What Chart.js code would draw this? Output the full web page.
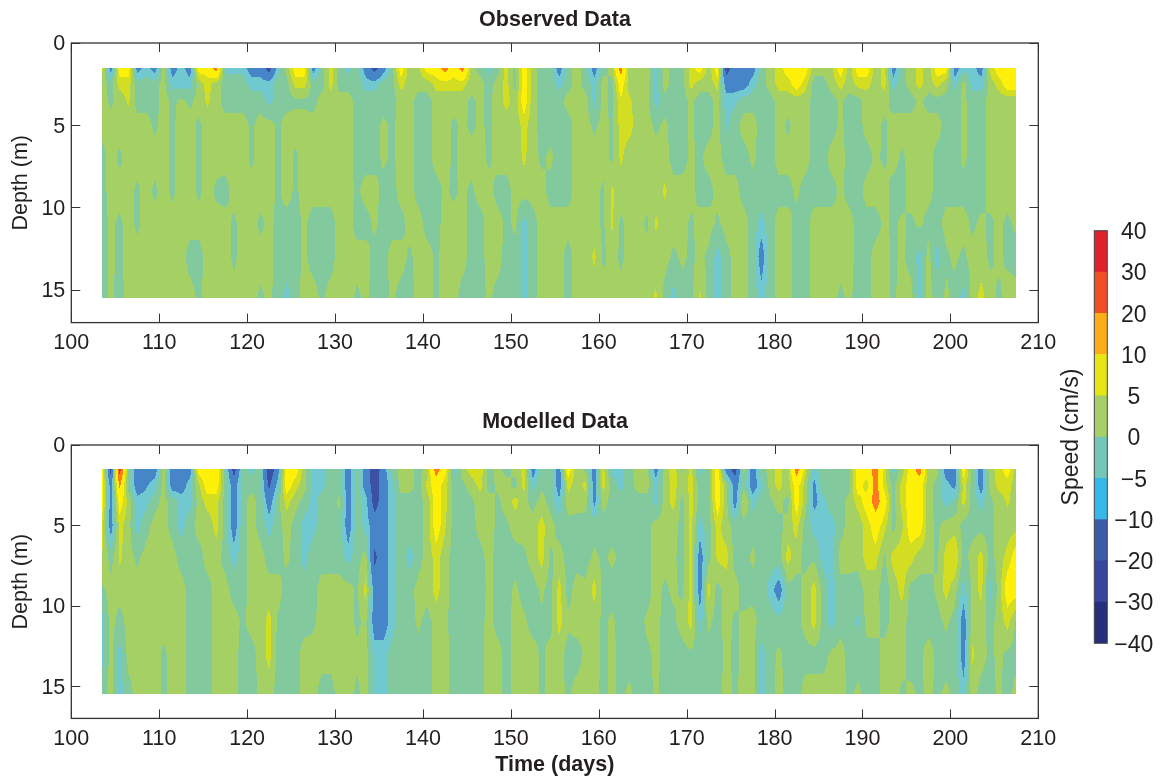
<!DOCTYPE html>
<html>
<head>
<meta charset="utf-8">
<title>Observed and modelled speed</title>
<script src="https://cdn.jsdelivr.net/npm/chart.js@4"></script>
<style>
    body { margin: 0; background: #fff; }
    canvas { position: absolute; }
</style>
</head>
<body>
<canvas id="obsChart" style="left:0;top:0"></canvas>
<canvas id="modChart" style="left:0;top:400px"></canvas>
<canvas id="barChart" style="left:1050px;top:215px"></canvas>
<script>
// -------------------------------
// DATA
// -------------------------------
const days = [103.5,104.5,105.5,106.5,107.5,108.5,109.5,110.5,111.5,112.5,113.5,114.5,115.5,116.5,117.5,118.5,119.5,120.5,121.5,122.5,123.5,124.5,125.5,126.5,127.5,
    128.5,129.5,130.5,131.5,132.5,133.5,134.5,135.5,136.5,137.5,138.5,139.5,140.5,141.5,142.5,143.5,144.5,145.5,146.5,147.5,148.5,149.5,150.5,151.5,152.5,153.5,154.5,155.5,156.5,
    157.5,158.5,159.5,160.5,161.5,162.5,163.5,164.5,165.5,166.5,167.5,168.5,169.5,170.5,171.5,172.5,173.5,174.5,175.5,176.5,177.5,178.5,179.5,180.5,181.5,182.5,183.5,
    184.5,185.5,186.5,187.5,188.5,189.5,190.5,191.5,192.5,193.5,194.5,195.5,196.5,197.5,198.5,199.5,200.5,201.5,202.5,203.5,204.5,205.5,206.5,207.5];
const depths = [1.5, 2.5, 3.5, 5, 7, 9, 11, 13, 15.5];

const obs1 = [7,-14,14,14,-14,-7,-14,2,-14,-7,-14,14,14,25,-7,-7,-7,-14,-14,-25,-7,2,14,14,-14,
    -2,7,-2,-7,-2,-14,-25,-14,-2,14,2,4,14,14,25,14,25,2,-2,-7,-2,7,-2,14,2,-2,-2,-14,-2,
    2,-2,-14,-2,2,25,2,2,4,-7,2,-2,-2,7,14,2,14,-25,-14,-14,-14,-2,2,7,14,14,14,
    2,2,4,14,2,14,14,2,7,-14,-2,2,7,2,14,14,-14,-7,-7,-14,7,14,14,14];
const obs2 = [2,-2,7,7,-2,-3,-2,2,-7,-7,-7,2,7,2,-2,-2,-2,-7,-7,-7,-2,-2,7,7,-2,
    -2,7,-2,-2,-2,-7,-7,-2,-2,7,2,2,2,7,7,7,7,2,2,-2,2,7,-2,14,2,-2,-2,-7,-2,
    2,-2,-7,2,-2,14,2,2,2,-7,2,-2,-2,7,2,2,7,-14,-14,-14,-7,-2,2,7,7,14,7,
    -2,-2,2,7,2,7,7,2,7,-7,-2,2,7,2,7,2,-7,2,-7,-7,2,7,14,14];
const obs3 = [2,-1,2,6,-2,-2,-2,2,-1,1,-1,2,6,2,-2,-2,-2,-2,-2,-7,-2,-2,-1,-1,-2,
    2,2,2,2,-2,-2,-2,-2,-2,2,2,-2,-2,2,2,2,2,-1,1,-1,2,7,2,14,2,-2,-2,-2,2,
    2,2,-7,2,-2,9,6,2,2,-7,-2,-2,-2,1,-2,-2,2,-7,-6,-2,-2,-2,-2,2,2,2,2,
    -2,-2,-2,1,-2,-2,2,2,2,-2,-2,-2,1,-2,-2,-2,-2,1,-2,-2,2,2,2,2];
const obs5 = [2,2,2,2,2,2,-1,2,-1,2,2,-1,2,2,2,2,2,-1,2,2,-1,2,2,2,2,
    2,2,2,2,-2,-2,-2,1,-1,2,2,-2,-2,2,2,-1,1,-1,1,-1,2,2,2,7,2,-2,-2,-2,-2,
    2,2,-1,2,-1,7,7,2,2,-1,1,-2,-2,1,-2,-2,2,-6,-2,2,2,-2,-2,2,-1,2,2,
    -2,-2,-2,1,-2,-2,2,2,-1,2,2,2,2,2,2,-2,-2,1,-2,-2,2,2,2,2];
const obs7 = [-2,2,-1,2,2,2,2,2,-1,2,2,-1,2,2,2,2,2,-1,2,2,-1,2,-1,2,2,
    2,2,2,2,-2,-2,-2,1,-1,2,2,-2,-2,2,2,-1,2,2,2,-1,2,2,2,6,2,-1,1,-2,-2,
    2,2,2,2,-1,6,2,2,2,2,2,-2,-2,1,-1,2,2,-2,-2,-2,1,-2,-2,2,2,2,2,
    -2,-2,2,2,-2,-2,-2,1,-1,2,-1,2,2,2,-2,-2,-2,1,-2,-2,2,2,2,2];
const obs9 = [-2,2,2,2,-1,2,-1,2,-1,2,2,-1,2,-1,-2,2,2,2,2,2,-1,2,-1,2,2,
    2,2,2,2,-1,2,2,-2,-2,2,2,-2,-2,-2,1,-1,1,-1,2,2,-2,-2,2,2,2,2,-2,-2,-2,
    2,2,2,-1,6,2,2,2,2,2,6,2,2,2,-2,-2,2,2,2,-2,-2,-2,-2,-2,-2,1,-2,
    -2,-2,-2,1,-2,-2,2,2,2,-2,-2,2,2,2,-2,-2,-2,-2,-2,-2,2,2,2,2];
const obs11 = [-2,1,-1,2,-1,2,2,2,2,2,2,2,2,2,2,-1,2,2,-1,1,-1,-2,-2,1,-2,
    -2,-2,2,2,-2,-2,1,-2,-2,-2,2,2,-2,-2,2,2,2,-2,-2,2,2,-1,1,-7,-2,2,2,2,2,
    2,2,2,-1,6,-1,2,2,-1,6,2,2,2,-1,2,2,-1,2,2,2,-2,-7,-2,2,2,-2,-2,
    2,2,2,2,2,-2,-2,-2,1,-1,1,-1,1,-2,-2,2,2,2,-1,1,-1,1,-1,1];
const obs13 = [-2,1,-1,2,2,2,2,2,2,2,-2,-2,2,2,2,-1,2,2,2,2,-2,-2,-2,1,-2,
    -2,-2,2,2,2,2,-2,-2,2,2,-1,2,2,-1,2,2,2,-2,-2,2,2,-2,-2,-7,-2,2,2,2,-2,
    2,2,6,-1,2,-1,2,2,2,2,2,-1,1,-1,1,-1,-7,-2,2,2,-2,-14,-2,2,2,-2,-2,
    2,2,2,2,2,-2,-2,2,2,-1,1,-2,-7,2,-7,-1,1,-1,2,2,-1,1,-1,-2];
const obs15 = [-2,1,-2,2,2,2,2,2,2,2,2,-1,2,2,2,2,2,2,-1,1,-2,-7,-2,2,2,
    -1,2,2,2,-1,1,-2,-2,1,-2,-2,2,2,-1,2,2,-2,-2,-2,1,-2,-2,-2,-7,-2,2,2,2,-2,
    2,2,2,2,2,2,2,2,2,6,-2,-7,-2,-2,6,-2,-7,-2,2,2,-2,-7,-2,2,2,-2,-2,
    2,2,2,-1,1,-2,-2,2,2,-1,2,2,-7,2,-2,1,-2,-7,2,7,2,-1,2,2];

const mod1 = [14,-25,35,-2,-14,-14,-14,2,-14,-14,-14,14,14,14,-2,-25,-2,-7,-2,-28,-14,14,14,2,-7,
    -7,-2,-2,-14,-2,-14,-28,-14,-2,2,2,-2,2,25,14,-7,2,8,8,-2,2,-2,2,7,-14,-2,-2,-14,14,
    2,-1,-14,7,-7,-7,-2,3,2,-14,2,8,-1,7,-7,-2,14,-14,-25,2,-14,-2,2,7,2,25,7,
    -7,-2,-2,-2,-2,14,14,25,7,-7,2,14,25,2,2,-14,-14,14,-2,-14,3,7,14,2];
const mod2 = [14,-14,22,-2,-14,-11,-7,2,-14,-14,-7,4,14,14,-2,-14,-2,-2,-2,-22,-7,14,7,2,-7,
    -7,-2,-2,-14,-2,-14,-25,-14,-7,2,2,-2,7,14,7,-2,-1,2,7,-2,1,2,-2,7,-7,-1,-2,-14,7,
    2,7,-14,7,-2,-7,-2,2,2,-7,2,7,2,7,-2,-2,14,2,-14,-2,-14,-7,2,7,2,14,2,
    -12,-2,-2,-2,-2,14,7,25,7,-2,7,14,14,2,-2,-8,-12,7,-2,-14,1,7,7,2];
const mod3 = [14,-14,14,3,-8,-7,-2,2,-2,-7,-7,2,7,7,-2,-14,-2,2,-2,-14,-2,7,2,-2,-7,
    -2,-2,1,-14,-2,-7,-25,-14,-7,-2,-2,-2,2,14,7,-2,-2,-1,2,2,-1,2,7,2,-2,2,-2,-9,3,
    2,2,-12,2,-2,-2,-2,-2,-2,-7,2,7,-2,7,-2,-2,14,2,-14,6,-7,-2,-1,2,-2,14,2,
    -12,-7,-2,-2,2,7,14,25,14,-2,7,14,14,2,-2,-7,-4,7,-2,-7,-1,2,6,2];
const mod5 = [7,-14,7,2,-7,-2,2,2,-2,-7,-2,2,2,7,-2,-14,-2,2,-2,-7,-2,2,-2,-7,-7,
    -2,-2,-2,-14,-2,-7,-14,-14,-7,-2,-2,-2,2,14,6,-2,-2,-2,2,2,-1,-1,2,2,2,7,2,-2,-2,
    -2,-2,-2,-2,-2,-2,-2,-2,-2,2,2,2,-2,7,-7,-2,7,2,-2,-2,-2,-2,-2,-2,2,7,-2,
    -7,-7,-7,-2,2,2,7,14,7,-2,4,14,14,2,-1,2,3,-2,-2,-2,-2,2,2,3];
const mod7 = [5,-2,6,2,-1,2,2,2,2,-2,-2,-2,2,2,-2,-7,-2,2,2,-2,-2,1,-2,-7,-2,
    -2,-2,-2,-7,-2,2,-22,-14,-7,-2,-7,-2,2,7,2,-2,-2,-2,-2,2,-2,-2,-2,-1,2,7,-1,2,-2,
    -2,-2,1,-1,1,-1,-2,-2,-2,2,2,1,-2,7,-14,-2,6,7,-2,-2,1,-2,-2,-2,7,2,-2,
    -1,-7,-7,2,2,2,7,7,-1,7,8,7,2,2,-1,7,10,-2,2,7,-2,2,7,14];
const mod9 = [-1,2,2,2,2,2,2,2,2,2,-2,-2,-2,2,2,-2,-2,2,2,2,2,-2,-2,-2,-2,
    2,2,2,2,-1,7,-14,-14,-7,-2,-2,2,2,7,2,-2,-2,-2,-2,1,-1,-2,1,-2,-2,1,-2,7,-2,
    2,1,7,-2,-2,-2,-2,-2,-2,2,-1,1,-1,7,-14,7,-2,2,2,-2,-2,-2,-7,-14,-2,-2,2,
    7,-2,-7,-2,-2,-3,2,2,-3,2,7,-2,-2,-2,1,7,2,-7,1,7,-7,2,14,14];
const mod11 = [-7,2,-2,2,2,2,2,2,2,2,-2,-2,-2,2,2,2,-1,2,2,7,-1,-2,-2,-2,-1,
    2,2,2,2,-1,1,-14,-14,-7,-2,-2,1,-2,2,1,-2,-2,-2,-2,2,-2,-2,2,1,-2,-1,-2,7,1,
    2,2,2,-1,1,-2,-2,-2,1,2,-2,-1,2,7,-7,1,-2,2,-1,1,2,-2,-2,-3,-2,-2,2,
    7,-2,-7,-2,-2,-6,2,2,-2,2,2,-2,-2,-2,-2,1,-2,-14,2,2,-2,2,7,-1];
const mod13 = [-7,2,-7,2,2,2,2,-1,2,2,-2,-2,-2,2,2,2,-2,-2,2,7,-2,-2,-2,2,2,
    2,2,2,2,1,2,-7,-7,-3,-2,-2,-2,-2,2,2,-2,-2,-2,-2,2,2,-2,2,2,2,-1,2,2,-2,
    -2,1,2,-1,1,-1,-2,-2,-1,1,-1,-2,-2,-1,-2,-2,-2,1,-1,1,2,-7,-2,1,-2,-2,-2,
    -2,-2,1,2,-2,-2,-2,-2,2,2,2,-2,-1,2,-1,-2,-2,-14,6,2,-1,1,-1,-2];
const mod15 = [-2,2,-7,-2,2,2,2,-1,2,2,-2,-2,-2,2,2,2,-2,-2,1,2,-2,-2,-2,2,2,
    -2,-2,2,2,-1,2,-7,-7,-2,-2,-2,-2,-2,2,2,-2,-2,-2,-2,2,2,-2,2,2,2,-1,2,2,-1,
    2,2,1,-1,1,-1,1,-2,-2,1,-2,-2,-2,-2,-2,-2,-2,2,-1,2,2,-7,-2,2,-2,-2,2,
    2,2,2,2,-1,1,-2,-2,2,2,-1,1,-1,1,-1,1,-1,-7,2,-2,-2,1,-2,2];

const obsRows = [obs1, obs2, obs3, obs5, obs7, obs9, obs11, obs13, obs15];
const modRows = [mod1, mod2, mod3, mod5, mod7, mod9, mod11, mod13, mod15];

// contour levels, fill colours in the panels and in the colour bar
const levels = [-40, -30, -20, -10, -5, 0, 5, 10, 20, 30, 40];
const levelLabels = ["\u221240", "\u221230", "\u221220", "\u221210", "\u22125", "0", "5", "10", "20", "30", "40"];
const fillColors = ["#262f7e", "#3c50a5", "#4685c8", "#70c9d0", "#82c99e", "#a5d064", "#d3de23", "#fff00a", "#ff7a1e", "#e6282a"];
const barColors = ["#262f7e", "#36479d", "#3b5ba8", "#35b9ea", "#73c7b7", "#a6cf68", "#e6e516", "#fbae17", "#f04e23", "#e0202a"];

const ink = "#231f20";
const family = "'Liberation Sans', Arial, sans-serif";


// -------------------------------
// PLUGINS
// -------------------------------
function levelIndex(v) {
    for (let k = levels.length - 2; k >= 0; k--) {
        if (v >= levels[k]) return k;
    }
    return 0;
}

function valueAt(rows, day, depth) {
    let c = Math.floor(day - days[0]);
    c = Math.max(0, Math.min(days.length - 2, c));
    let r = 0;
    while (r < depths.length - 2 && depth > depths[r + 1]) r++;
    const u = Math.max(0, Math.min(1, (day - days[c]) / (days[c + 1] - days[c])));
    const w = Math.max(0, Math.min(1, (depth - depths[r]) / (depths[r + 1] - depths[r])));
    const top = rows[r][c] * (1 - u) + rows[r][c + 1] * u;
    const bot = rows[r + 1][c] * (1 - u) + rows[r + 1][c + 1] * u;
    return top * (1 - w) + bot * w;
}

// filled contours, painted run by run through the chart's scales
function contourPlugin(rows) {
    return {
        id: "contour",
        beforeDatasetsDraw(chart) {
            const { ctx, scales: { x, y } } = chart;
            const x0 = Math.round(x.getPixelForValue(days[0]));
            const x1 = Math.round(x.getPixelForValue(days[days.length - 1]));
            const y0 = Math.round(y.getPixelForValue(depths[0]));
            const y1 = Math.round(y.getPixelForValue(depths[depths.length - 1]));
            ctx.save();
            for (let py = y0; py < y1; py++) {
                const depth = y.getValueForPixel(py + 0.5);
                let start = x0;
                let cur = -1;
                for (let px = x0; px <= x1; px++) {
                    const k = px < x1 ? levelIndex(valueAt(rows, x.getValueForPixel(px + 0.5), depth)) : -2;
                    if (k !== cur) {
                        if (cur >= 0) {
                            ctx.fillStyle = fillColors[cur];
                            ctx.fillRect(start, py, px - start, 1);
                        }
                        cur = k;
                        start = px;
                    }
                }
            }
            ctx.restore();
        }
    };
}

// box round the axes with ticks pointing inward on all four sides
const framePlugin = {
    id: "frame",
    afterDraw(chart) {
        const { ctx, chartArea: a, scales: { x, y } } = chart;
        ctx.save();
        ctx.strokeStyle = "#333";
        ctx.lineWidth = 1.3;
        ctx.strokeRect(a.left, a.top, a.right - a.left, a.bottom - a.top);
        ctx.lineWidth = 1;
        ctx.beginPath();
        x.ticks.forEach(t => {
            const p = Math.round(x.getPixelForValue(t.value)) + 0.5;
            ctx.moveTo(p, a.top); ctx.lineTo(p, a.top + 9);
            ctx.moveTo(p, a.bottom); ctx.lineTo(p, a.bottom - 9);
        });
        y.ticks.forEach(t => {
            const p = Math.round(y.getPixelForValue(t.value)) + 0.5;
            ctx.moveTo(a.left, p); ctx.lineTo(a.left + 9, p);
            ctx.moveTo(a.right, p); ctx.lineTo(a.right - 9, p);
        });
        ctx.stroke();
        ctx.restore();
    }
};

const barFramePlugin = {
    id: "barFrame",
    afterDraw(chart) {
        const { ctx, chartArea: a } = chart;
        ctx.save();
        ctx.strokeStyle = "#444";
        ctx.lineWidth = 1;
        ctx.strokeRect(a.left, a.top, a.right - a.left, a.bottom - a.top);
        ctx.restore();
    }
};


// -------------------------------
// PANELS
// -------------------------------
function buildPanel(id, opts) {
    const canvas = document.getElementById(id);
    canvas.width = 1110;
    canvas.height = opts.height;
    canvas.style.width = "1110px";
    canvas.style.height = opts.height + "px";

    const points = [];
    opts.rows.forEach((row, r) => row.forEach((v, c) => points.push({ x: days[c], y: depths[r] })));

    return new Chart(canvas, {
        type: "scatter",
        data: { datasets: [{ data: points, pointRadius: 0, pointHoverRadius: 0 }] },
        plugins: [contourPlugin(opts.rows), framePlugin],
        options: {
            responsive: false,
            animation: false,
            plugins: {
                legend: { display: false },
                tooltip: { enabled: false },
                title: {
                    display: true,
                    text: opts.title,
                    color: ink,
                    font: { family, size: 21.5, weight: "bold", lineHeight: 1.2 },
                    padding: opts.titlePadding
                }
            },
            scales: {
                x: {
                    type: "linear",
                    min: 100,
                    max: 210,
                    grid: { display: false, drawTicks: false },
                    border: { display: false },
                    ticks: { stepSize: 10, includeBounds: false, maxRotation: 0, autoSkip: false, padding: 8, color: ink, font: { family, size: 21.5 } },
                    title: {
                        display: !!opts.xTitle,
                        text: opts.xTitle || "",
                        color: ink,
                        font: { family, size: 21.5, weight: "bold", lineHeight: 1.2 },
                        padding: { top: 0, bottom: 2 }
                    },
                    afterFit(scale) {
                        scale.height = opts.xHeight;
                        scale.paddingLeft = 0;
                        scale.paddingRight = 71.7;
                    }
                },
                y: {
                    type: "linear",
                    reverse: true,
                    min: 0,
                    max: 17,
                    grid: { display: false, drawTicks: false },
                    border: { display: false },
                    ticks: { stepSize: 5, includeBounds: false, padding: 6, labelOffset: 1.5, color: ink, font: { family, size: 21.5 } },
                    title: {
                        display: true,
                        text: "Depth (m)",
                        color: ink,
                        font: { family, size: 21.5, lineHeight: 1.2 },
                        padding: { top: 8, bottom: 0 }
                    },
                    afterFit(scale) {
                        scale.width = 71.3;
                        scale.paddingTop = 0;
                        scale.paddingBottom = 0;
                    }
                }
            }
        }
    });
}

buildPanel("obsChart", {
    rows: obsRows,
    title: "Observed Data",
    height: 390,
    xHeight: 67.4,
    titlePadding: { top: 7, bottom: 10.2 }
});

buildPanel("modChart", {
    rows: modRows,
    title: "Modelled Data",
    height: 380,
    xHeight: 61.6,
    xTitle: "Time (days)",
    titlePadding: { top: 9, bottom: 10.2 }
});


// -------------------------------
// COLOUR BAR
// -------------------------------
const barCanvas = document.getElementById("barChart");
barCanvas.width = 113;
barCanvas.height = 450;
barCanvas.style.width = "113px";
barCanvas.style.height = "450px";

new Chart(barCanvas, {
    type: "bar",
    data: {
        labels: ["Speed"],
        datasets: barColors.map((color, k) => ({
            data: [[k, k + 1]],
            backgroundColor: color,
            barPercentage: 1,
            categoryPercentage: 1,
            grouped: false
        }))
    },
    plugins: [barFramePlugin],
    options: {
        responsive: false,
        animation: false,
        layout: { padding: { top: 15.7, bottom: 21.7, left: 0, right: 0 } },
        plugins: { legend: { display: false }, tooltip: { enabled: false } },
        scales: {
            x: { display: false, grid: { display: false } },
            y: {
                position: "right",
                min: 0,
                max: levels.length - 1,
                grid: { display: false, drawTicks: false },
                border: { display: false },
                ticks: {
                    stepSize: 1,
                    autoSkip: false,
                    padding: 7,
                    labelOffset: 2,
                    crossAlign: "center",
                    color: ink,
                    font: { family, size: 23 },
                    callback: v => levelLabels[v]
                },
                afterFit(scale) {
                    scale.width = 55.7;
                    scale.paddingTop = 0;
                    scale.paddingBottom = 0;
                }
            },
            speed: {
                position: "left",
                min: 0,
                max: levels.length - 1,
                grid: { display: false },
                border: { display: false },
                ticks: { display: false },
                title: {
                    display: true,
                    text: "Speed (cm/s)",
                    color: ink,
                    font: { family, size: 23, lineHeight: 1.2 },
                    padding: { top: 8, bottom: 0 }
                },
                afterFit(scale) { scale.width = 44.3; }
            }
        }
    }
});
</script>
</body>
</html>
